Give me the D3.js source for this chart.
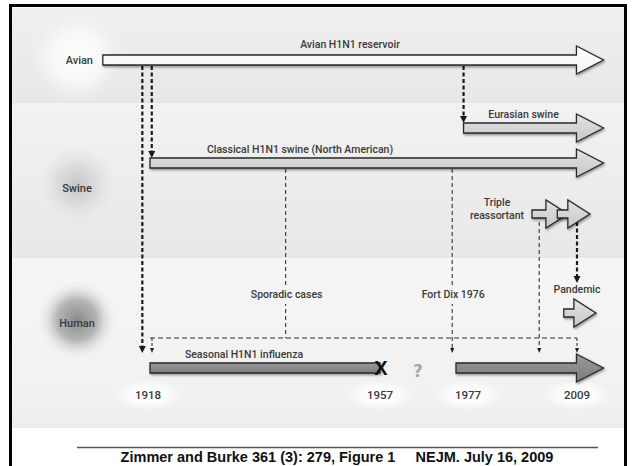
<!DOCTYPE html>
<html><head><meta charset="utf-8">
<script src="https://cdn.jsdelivr.net/npm/d3@7"></script>
<style>
html,body{margin:0;padding:0;background:#fff;}
svg{display:block;}
.lbl{font-family:Roboto,"DejaVu Sans Condensed",sans-serif;font-weight:500;fill:#3a3a3a;}
.foot{font-family:"Liberation Sans",Arial,sans-serif;font-weight:bold;fill:#111;}
</style></head>
<body>
<script>
// ---------- data ----------
const lanes = ["Avian", "Swine", "Human"];
const yearTicks = [1918, 1957, 1977, 2009];

// lineages drawn as block arrows
const tracks      = ["Avian H1N1 reservoir", "Eurasian swine", "Classical H1N1 swine (North American)", "Triple reassortant", "Pandemic", "Seasonal H1N1 influenza"];
const segTrack    = [0, 1, 2, 3, 3, 4, 5, 5];
const segStart    = [1910, 1979, 1918, 1997.1, 2003.8, 2005.5, 1918, 1977];
const segEnd      = [2016, 2016, 2016, 2006.6, 2012.4, 2014, 1957, 2016];
const segHead     = [true, true, true, true, true, true, false, true];
const segFill     = ["white", "light", "light", "light", "light", "light", "dark", "dark"];
const segLabel    = ["Avian H1N1 reservoir", "Eurasian swine", "Classical H1N1 swine (North American)", "", "", "", "Seasonal H1N1 influenza", ""];

// transmissions (dashed)
const jumpYear    = [1916.7, 1918.3, 1979, 2009, 1941, 1976, 1999];
const jumpFrom    = [0, 0, 0, 3, 2, 2, 3];
const jumpTo      = ["human", 2, 1, 4, "hline", "human", "human"];
const jumpHeavy   = [true, true, true, true, false, false, false];
const jumpLabel   = ["", "", "", "", "Sporadic cases", "Fort Dix 1976", ""];
const hlineYears  = [1918, 2009];

const footer = "Zimmer and Burke 361 (3): 279, Figure 1     NEJM. July 16, 2009";

// ---------- layout ----------
const W = 632, H = 466;
const svg = d3.select("body").append("svg").attr("width", W).attr("height", H);
const x = d3.scaleLinear().domain(yearTicks).range([150, 380, 456, 577]);
const yTrack = d3.scaleOrdinal().domain(d3.range(tracks.length)).range([60, 128, 163, 214, 313, 368]);
const laneBand = d3.scaleOrdinal().domain(lanes).range([[8, 102], [102, 257], [257, 428]]);
const laneLabelY = d3.scaleOrdinal().domain(lanes).range([60, 188, 323]);
const fills = {white: "url(#gWhite)", light: "url(#gLight)", dark: "url(#gDark)"};

const defs = svg.append("defs");
function radial(id, stops) {
  const g = defs.append("radialGradient").attr("id", id);
  stops.forEach(s => g.append("stop").attr("offset", s[0]).attr("stop-color", s[1]).attr("stop-opacity", s[2]));
}
function linear(id, stops) {
  const g = defs.append("linearGradient").attr("id", id).attr("x1", 0).attr("y1", 0).attr("x2", 0).attr("y2", 1);
  stops.forEach(s => g.append("stop").attr("offset", s[0]).attr("stop-color", s[1]));
}
radial("rAvian", [[0, "#ffffff", 1], [0.55, "#fafafa", 0.8], [1, "#f0f0f0", 0]]);
radial("rSwine", [[0, "#c6c6c6", 1], [0.5, "#d8d8d8", 0.8], [1, "#e8e8e8", 0]]);
radial("rHuman", [[0, "#8a8a8a", 1], [0.5, "#a9a9a9", 0.85], [1, "#f0f0f0", 0]]);
radial("rYear", [[0, "#ffffff", 1], [0.6, "#ffffff", 0.7], [1, "#ffffff", 0]]);
linear("bAvian", [[0, "#efefef"], [1, "#e8e8e8"]]);
linear("bSwine", [[0, "#f2f2f2"], [1, "#e8e8e8"]]);
linear("bHuman", [[0, "#f5f5f5"], [0.85, "#f1f1f1"], [1, "#ececec"]]);
linear("gWhite", [[0, "#ffffff"], [1, "#f4f4f4"]]);
linear("gLight", [[0, "#e2e2e2"], [1, "#c8c8c8"]]);
linear("gDark", [[0, "#9a9a9a"], [1, "#7c7c7c"]]);
const f = defs.append("filter").attr("id", "shadow").attr("x", "-10%").attr("y", "-30%").attr("width", "130%").attr("height", "180%");
f.append("feDropShadow").attr("dx", 1).attr("dy", 1.5).attr("stdDeviation", 1).attr("flood-color", "#000").attr("flood-opacity", 0.4);

// white page
svg.append("rect").attr("x", 0).attr("y", 0).attr("width", W).attr("height", H).attr("fill", "#fff");

// lane bands
const bandIds = {Avian: "bAvian", Swine: "bSwine", Human: "bHuman"};
svg.selectAll("rect.band").data(lanes).join("rect").attr("class", "band")
  .attr("x", 12).attr("width", 613)
  .attr("y", d => laneBand(d)[0]).attr("height", d => laneBand(d)[1] - laneBand(d)[0])
  .attr("fill", d => `url(#${bandIds[d]})`);
svg.selectAll("line.bandsep").data(lanes.slice(1)).join("line").attr("class", "bandsep")
  .attr("x1", 12).attr("x2", 625).attr("y1", d => laneBand(d)[0]).attr("y2", d => laneBand(d)[0])
  .attr("stroke", "#e0e0e0").attr("stroke-width", 1);

// lane glows and labels
const glowIds = {Avian: "rAvian", Swine: "rSwine", Human: "rHuman"};
svg.selectAll("ellipse.glow").data(lanes).join("ellipse").attr("class", "glow")
  .attr("cx", 77).attr("cy", d => laneLabelY(d) - 3)
  .attr("rx", d => d === "Avian" ? 48 : 40).attr("ry", d => d === "Avian" ? 46 : 40)
  .attr("fill", d => `url(#${glowIds[d]})`);
svg.selectAll("text.lane").data(lanes).join("text").attr("class", "lbl lane")
  .attr("x", d => d === "Avian" ? 93 : 77).attr("y", d => laneLabelY(d) + 4)
  .attr("text-anchor", d => d === "Avian" ? "end" : "middle")
  .attr("font-size", 11).text(d => d);

// year labels with halos
const yearX = d => x(d) + (d === 1977 ? 12 : 0) - (d === 1918 ? 2 : 0);
svg.selectAll("ellipse.yh").data(yearTicks).join("ellipse").attr("class", "yh")
  .attr("cx", yearX).attr("cy", 395)
  .attr("rx", 34).attr("ry", 15).attr("fill", "url(#rYear)");
svg.selectAll("text.year").data(yearTicks).join("text").attr("class", "lbl year")
  .attr("x", yearX).attr("y", 399)
  .attr("text-anchor", "middle").attr("font-size", 11.5).attr("font-weight", 700).attr("fill", "#333").text(d => d);

// ---------- dashed transmissions ----------
const shaftH = 5, headH = 14, headL = 27;
const hlineY = 338, arrowEndY = 353;
function targetY(j) {
  const t = jumpTo[j];
  if (t === "human") return arrowEndY;
  if (t === "hline") return hlineY;
  if (t === 4) return 283;
  return yTrack(t) - shaftH;
}
function sourceY(j) {
  const s = jumpFrom[j];
  if (s === 3) return yTrack(3) + 8;
  return yTrack(s) + shaftH + 1;
}
const jg = svg.append("g");
jumpYear.forEach((yr, j) => {
  const heavy = jumpHeavy[j];
  const xx = x(yr), y0 = sourceY(j), y1 = targetY(j);
  const ah = heavy ? 7 : 5, aw = heavy ? 3.5 : 2;
  const hasHead = jumpTo[j] !== "hline";
  jg.append("line").attr("x1", xx).attr("x2", xx).attr("y1", y0).attr("y2", hasHead ? y1 - ah + 1 : y1)
    .attr("stroke", heavy ? "#1a1a1a" : "#333").attr("stroke-width", heavy ? 2.2 : 1.1)
    .attr("stroke-dasharray", heavy ? "4,2.5" : "4,3");
  if (hasHead) {
    jg.append("path").attr("d", d3.line()([[xx - aw, y1 - ah], [xx + aw, y1 - ah], [xx, y1]]) + "Z")
      .attr("fill", "#1a1a1a");
  }
  if (jumpLabel[j]) {
    const t = jg.append("text").attr("class", "lbl").attr("x", xx + 1).attr("y", 298)
      .attr("text-anchor", "middle").attr("font-size", 10.5).attr("font-weight", 400).attr("fill", "#444").text(jumpLabel[j]);
    const bb = t.node().getBBox();
    jg.insert("rect", "text:last-of-type").attr("x", bb.x - 2).attr("y", bb.y - 3).attr("width", bb.width + 4).attr("height", bb.height + 6).attr("fill", "#f4f4f4");
  }
});
// horizontal collector to human seasonal
jg.append("line").attr("x1", x(hlineYears[0])).attr("x2", x(hlineYears[1])).attr("y1", hlineY).attr("y2", hlineY)
  .attr("stroke", "#333").attr("stroke-width", 1.1).attr("stroke-dasharray", "5,3");
hlineYears.forEach(yr => {
  const xx = x(yr) + (yr === 1918 ? 2 : 0);
  jg.append("line").attr("x1", xx).attr("x2", xx).attr("y1", hlineY).attr("y2", arrowEndY - 4)
    .attr("stroke", "#333").attr("stroke-width", 1.1).attr("stroke-dasharray", "3,2");
  jg.append("path").attr("d", d3.line()([[xx - 2, arrowEndY - 5], [xx + 2, arrowEndY - 5], [xx, arrowEndY]]) + "Z").attr("fill", "#222");
});

// ---------- block arrows ----------
const ag = svg.append("g");
function arrowPts(x0, x1, cy, head, isSmall) {
  const sh = isSmall ? 4 : shaftH, hh = isSmall ? 14 : headH, hl = isSmall ? 22 : headL;
  if (!head) return [[x0, cy - sh], [x1, cy - sh], [x1, cy + sh], [x0, cy + sh]];
  return [[x0, cy - sh], [x1 - hl, cy - sh], [x1 - hl, cy - hh], [x1, cy], [x1 - hl, cy + hh], [x1 - hl, cy + sh], [x0, cy + sh]];
}
segStart.forEach((s, i) => {
  const cy = yTrack(segTrack[i]);
  const isSmall = segTrack[i] === 3 || segTrack[i] === 4;
  ag.append("path").attr("d", d3.line()(arrowPts(x(s), x(segEnd[i]), cy, segHead[i], isSmall)) + "Z")
    .attr("fill", fills[segFill[i]]).attr("stroke", "#2a2a2a").attr("stroke-width", 1.3)
    .attr("stroke-linejoin", "miter").attr("filter", "url(#shadow)");
  if (segLabel[i]) {
    let lx = (x(s) + x(segEnd[i])) / 2;
    if (i === 0) lx = 350;
    if (i === 1) lx = x(s) + 60;
    if (i === 6) lx = x(s) + 94;
    if (i === 2) lx = 300;
    ag.append("text").attr("class", "lbl").attr("x", lx).attr("y", cy - (i === 0 ? 12 : 10))
      .attr("text-anchor", "middle").attr("font-size", 10.5).text(segLabel[i]);
  }
});
// triple reassortant and pandemic labels
const triX = x(segStart[3]) - 35;
ag.append("text").attr("class", "lbl").attr("x", triX).attr("y", yTrack(3) - 8).attr("text-anchor", "middle")
  .attr("font-size", 10.5).attr("font-weight", 400).attr("fill", "#444").text("Triple");
ag.append("text").attr("class", "lbl").attr("x", triX).attr("y", yTrack(3) + 5).attr("text-anchor", "middle")
  .attr("font-size", 10.5).attr("font-weight", 400).attr("fill", "#444").text("reassortant");
ag.append("text").attr("class", "lbl").attr("x", x(2009)).attr("y", 293).attr("text-anchor", "middle")
  .attr("font-size", 10.5).text("Pandemic");

// extinction mark and gap
ag.append("text").attr("x", x(1957) + 1).attr("y", yTrack(5) + 7).attr("text-anchor", "middle")
  .attr("font-family", "Liberation Sans, Arial, sans-serif").attr("font-weight", "bold").attr("font-size", 20).attr("fill", "#111").text("X");
ag.append("text").attr("x", (x(1957) + x(1977)) / 2).attr("y", yTrack(5) + 9).attr("text-anchor", "middle")
  .attr("font-family", "DejaVu Sans, sans-serif").attr("font-weight", "bold").attr("font-size", 17).attr("fill", "#a8a8a8").text("?");

// footer
svg.append("line").attr("x1", 77).attr("x2", 598).attr("y1", 447.5).attr("y2", 447.5).attr("stroke", "#555").attr("stroke-width", 1.5);
svg.append("text").attr("class", "foot").attr("x", 337).attr("y", 462).attr("text-anchor", "middle")
  .attr("font-size", 14.5).attr("xml:space", "preserve").style("white-space", "pre").text(footer);

// frame
svg.append("rect").attr("x", 10.5).attr("y", 5.5).attr("width", 615).attr("height", 470)
  .attr("fill", "none").attr("stroke", "#000").attr("stroke-width", 3);
</script>
</body></html>
